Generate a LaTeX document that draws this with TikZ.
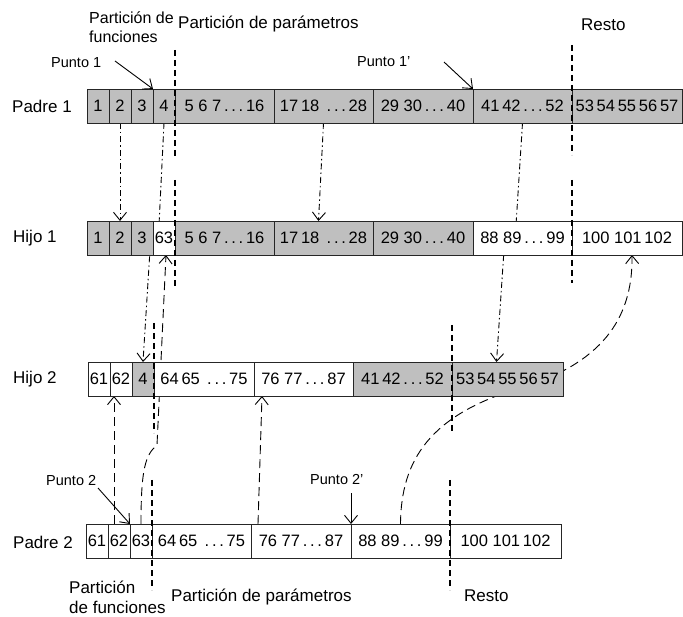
\documentclass[tikz,border=0pt]{standalone}
\usepackage{fontspec}
\setmainfont{Liberation Sans}
\usetikzlibrary{arrows.meta,calc}
\pgfdeclarelayer{bg}
\pgfsetlayers{bg,main}
\newcommand\myd{\,.\,.\,.\,}
\begin{document}
\begin{tikzpicture}[x=1pt,y=-1pt,
  cell/.style={draw=black!85, line width=0.8pt, minimum height=34pt, inner sep=0pt, outer sep=0pt,
    font=\fontsize{16.5}{19}\selectfont, anchor=west},
  gc/.style={cell, fill=black!25},
  wc/.style={cell, fill=white},
  lbl/.style={font=\fontsize{17}{20}\selectfont, inner sep=0pt, anchor=west, align=left},
  small/.style={font=\fontsize{14.5}{17}\selectfont, inner sep=0pt, anchor=west},
  part/.style={draw=black, line width=1.2pt, dash pattern=on 6pt off 4pt},
  tipv/.style={-{Straight Barb[length=8pt,width=13pt]}},
  dd/.style={tipv, line width=0.9pt, dash pattern=on 6pt off 3pt on 1.5pt off 3pt},
  ld/.style={tipv, line width=0.9pt, dash pattern=on 9pt off 5pt},
  pt/.style={tipv, line width=0.9pt},
]
\useasboundingbox (0,0) rectangle (683,617);

% Padre 1
\node[gc, minimum width=22] (p1c1) at (87,106) {1};
\node[gc, minimum width=22] (p1c2) at (109,106) {2};
\node[gc, minimum width=22] (p1c3) at (131,106) {3};
\node[gc, minimum width=22] (p1c4) at (153,106) {4};
\node[gc, minimum width=99] (p1c5) at (175,106) {5 6 7\myd16};
\node[gc, minimum width=99] (p1c6) at (274,106) {17\,18 \myd 28};
\node[gc, minimum width=100] (p1c7) at (373,106) {29 30\myd40};
\node[gc, minimum width=99] (p1c8) at (473,106) {41\,42\myd52};
\node[gc, minimum width=110] (p1c9) at (572,106) {53\,54\,55\,56\,57};

% Hijo 1
\node[gc, minimum width=22] (h1c1) at (87,238) {1};
\node[gc, minimum width=22] (h1c2) at (109,238) {2};
\node[gc, minimum width=22] (h1c3) at (131,238) {3};
\node[wc, minimum width=22] (h1c4) at (153,238) {63};
\node[gc, minimum width=99] (h1c5) at (175,238) {5 6 7\myd16};
\node[gc, minimum width=99] (h1c6) at (274,238) {17\,18 \myd 28};
\node[gc, minimum width=100] (h1c7) at (373,238) {29 30\myd40};
\node[wc, minimum width=99] (h1c8) at (473,238) {88 89\myd 99};
\node[wc, minimum width=110] (h1c9) at (572,238) {100 101\,102};

% Hijo 2
\node[wc, minimum width=22] (h2c1) at (88,379) {61};
\node[wc, minimum width=22] (h2c2) at (110,379) {62};
\node[gc, minimum width=22] (h2c3) at (132,379) {4};
\node[wc, minimum width=100] (h2c4) at (154,379) {64\,65 \myd 75};
\node[wc, minimum width=99] (h2c5) at (254,379) {76 77\myd 87};
\node[gc, minimum width=99] (h2c6) at (353,379) {41\,42\myd52};
\node[gc, minimum width=111] (h2c7) at (452,379) {53\,54\,55\,56\,57};

% Padre 2
\node[wc, minimum width=22] (p2c1) at (86,541) {61};
\node[wc, minimum width=22] (p2c2) at (108,541) {62};
\node[wc, minimum width=22] (p2c3) at (130,541) {63};
\node[wc, minimum width=99] (p2c4) at (152,541) {64\,65 \myd 75};
\node[wc, minimum width=100] (p2c5) at (251,541) {76 77\myd 87};
\node[wc, minimum width=99] (p2c6) at (351,541) {88 89\myd 99};
\node[wc, minimum width=111] (p2c7) at (450,541) {100 101\,102};

% row labels
\node[lbl] (lp1) at (12,106) {Padre 1};
\node[lbl] (lh1) at (13,238) {Hijo 1};
\node[lbl] (lh2) at (13,379) {Hijo 2};
\node[lbl] (lp2) at (13,542) {Padre 2};

% top labels
\node[lbl, font=\fontsize{16}{19}\selectfont] (pf1) at (89,27) {Partición de\\funciones};
\node[lbl] (pp1) at (178,24) {Partición de parámetros};
\node[lbl] (r1) at (581,25) {Resto};
\node[small] (pu1) at (51,63) {Punto 1};
\node[small] (pu1b) at (357,62) {Punto 1’};

% bottom labels
\node[small] (pu2) at (46,481) {Punto 2};
\node[small] (pu2b) at (310,480) {Punto 2’};
\node[lbl] (pf2) at (69,597) {Partición\\de funciones};
\node[lbl] (pp2) at (171,597) {Partición de parámetros};
\node[lbl] (r2) at (464,596) {Resto};

% partition lines
\draw[part] (175,50) -- (175,158);
\draw[part] (572,45) -- (572,155);
\draw[part] (175,180) -- (175,287);
\draw[part] (572,180) -- (572,283);
\draw[part] (154,323) -- (154,433);
\draw[part] (452,325) -- (452,432);
\draw[part] (152,480) -- (152,590);
\draw[part] (450,480) -- (450,590);

% point arrows
\coordinate (a1) at (115,61);
\coordinate (a1b) at (444,62);
\coordinate (a2) at (98,488);
\coordinate (a2b) at (351,493);
\draw[pt] (a1) -- (p1c4.north west);
\draw[pt] (a1b) -- (p1c8.north west);
\draw[pt] (a2) -- (p2c3.north west);
\draw[pt] (a2b) -- (p2c6.north west);

% connectors (behind rows)
\begin{pgfonlayer}{bg}
\draw[dd] (p1c2.south) -- (h1c2.north);
\draw[dd] (p1c6.south) -- ($(h1c6.north)+(-5,0)$);
\draw[dd] (p1c4.south) -- (159,225) -- (150,250) -- (h2c3.north);
\draw[dd] (p1c8.south) -- (516,225) -- (504,250) -- ($(h2c7.north)+(-11,0)$);
\draw[ld] ($(p2c2.north)+(-5,0)$) -- ($(h2c2.south)+(-7,0)$);
\draw[ld] ($(p2c5.north west)+(7,0)$) -- ($(h2c5.south west)+(8,0)$);
\draw[ld] (p2c3.north) .. controls (141,470) and (145,455) .. (157,445) -- ($(h1c4.south)+(2,0)$);
\draw[ld] (p2c6.north) .. controls (401,460) and (430,415) .. (520,388)
   .. controls (600,364) and (633,320) .. ($(h1c9.south)+(5,0)$);
\end{pgfonlayer}
\end{tikzpicture}
\end{document}
